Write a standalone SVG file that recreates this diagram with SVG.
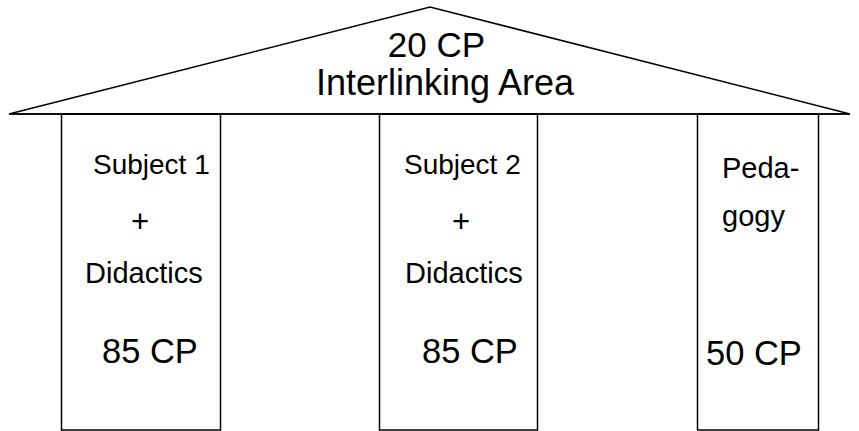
<svg xmlns="http://www.w3.org/2000/svg" width="859" height="431" viewBox="0 0 859 431">
  <style>
    .edge { fill: none; stroke: #000; stroke-width: 1.5; }
    .lbl { font-family: "Liberation Sans", Arial, sans-serif; fill: #000; }
    .t { font-size: 29px; }
    .s { font-size: 28px; }
    .plus { font-size: 31px; }
    .cp { font-size: 34.5px; }
    .roof { text-anchor: middle; }
  </style>
  <rect width="859" height="431" fill="#fff"/>
  <!-- roof -->
  <g id="roof">
    <polygon class="edge" points="9,114 430,7 850,114"/>
    <text class="lbl roof" x="436.5" y="57" font-size="35">20 CP</text>
    <text class="lbl roof" x="445" y="95" font-size="36">Interlinking Area</text>
  </g>
  <!-- pillars -->
  <g id="subject1">
    <rect class="edge" x="61.5" y="114" width="159" height="316"/>
    <text class="lbl s" x="93" y="174">Subject 1</text>
    <text class="lbl plus" x="131" y="232">+</text>
    <text class="lbl t" x="85" y="283">Didactics</text>
    <text class="lbl cp" x="102" y="363">85 CP</text>
  </g>
  <g id="subject2">
    <rect class="edge" x="379.5" y="114" width="158" height="316"/>
    <text class="lbl s" x="404" y="174">Subject 2</text>
    <text class="lbl plus" x="452" y="232">+</text>
    <text class="lbl t" x="405" y="283">Didactics</text>
    <text class="lbl cp" x="422" y="363">85 CP</text>
  </g>
  <g id="pedagogy">
    <rect class="edge" x="697.5" y="114" width="121" height="316"/>
    <text class="lbl t" x="722" y="178">Peda-</text>
    <text class="lbl t" x="722" y="226">gogy</text>
    <text class="lbl cp" x="706" y="365">50 CP</text>
  </g>
  <line class="edge" x1="9" y1="114" x2="850" y2="114"/>
</svg>
